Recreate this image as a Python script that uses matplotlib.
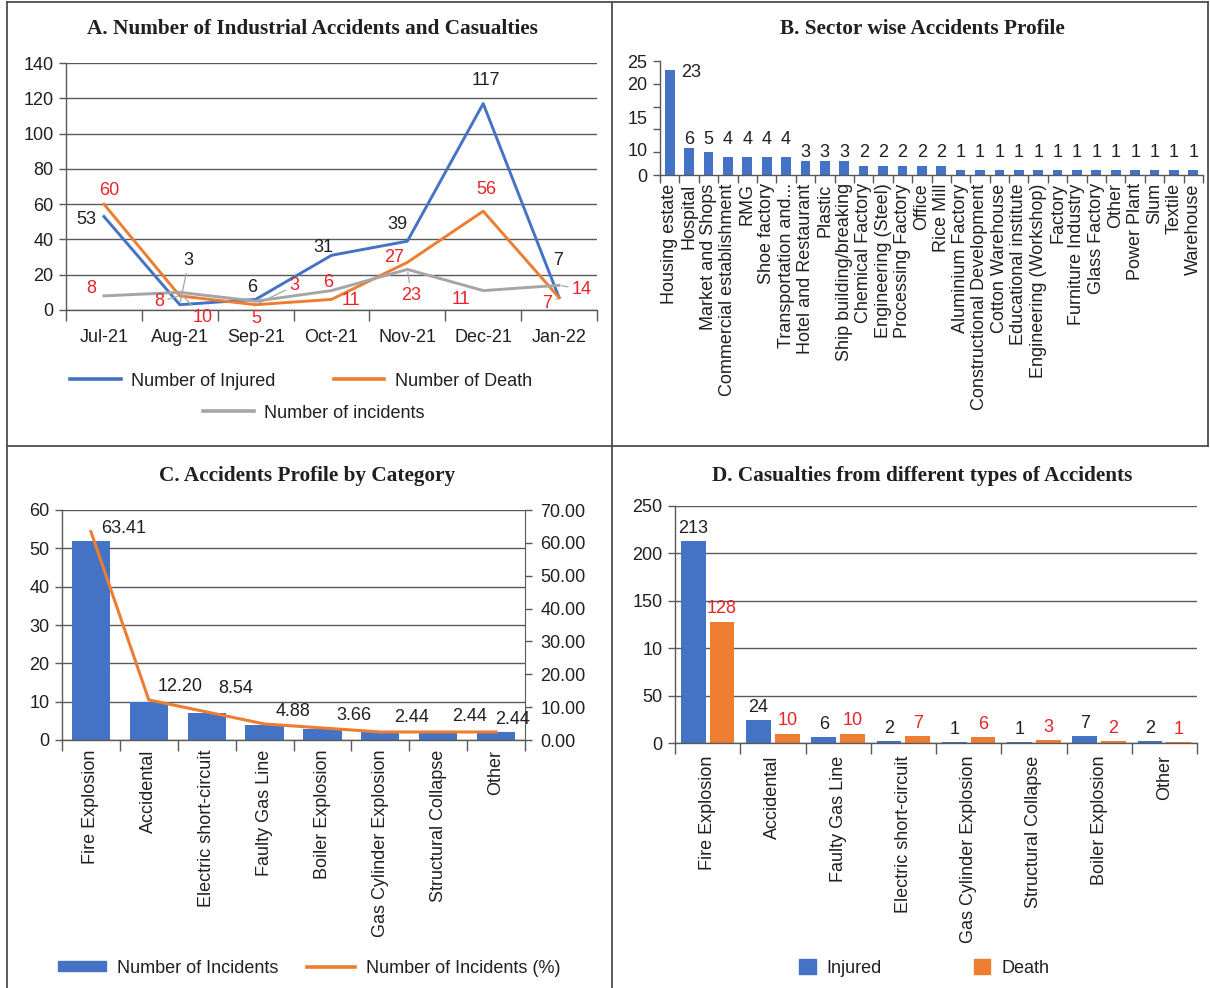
import numpy as np
import matplotlib
matplotlib.use("Agg")
import matplotlib.pyplot as plt
from matplotlib.lines import Line2D
from matplotlib.patches import Patch

plt.rcParams['font.family'] = ['Liberation Sans', 'DejaVu Sans']
plt.rcParams['font.size'] = 13

BLUE = '#4472C4'
ORANGE = '#ED7D31'
GRAY = '#A5A5A5'
RED = '#E8232A'
INK = '#231F20'
AXC = '#595959'

# A. monthly accidents and casualties
months = ['Jul-21', 'Aug-21', 'Sep-21', 'Oct-21', 'Nov-21', 'Dec-21', 'Jan-22']
injured = [53, 3, 6, 31, 39, 117, 7]
deaths = [60, 8, 3, 6, 27, 56, 7]
incidents = [8, 10, 5, 11, 23, 11, 14]

# B. accidents by sector
sectors = ['Housing estate', 'Hospital', 'Market and Shops', 'Commercial establishment',
           'RMG', 'Shoe factory', 'Transportation and...', 'Hotel and Restaurant',
           'Plastic', 'Ship building/breaking', 'Chemical Factory', 'Engineering (Steel)',
           'Processing Factory', 'Office', 'Rice Mill', 'Aluminium Factory',
           'Constructional Development', 'Cotton Warehouse', 'Educational institute',
           'Engineering (Workshop)', 'Factory', 'Furniture Industry', 'Glass Factory',
           'Other', 'Power Plant', 'Slum', 'Textile', 'Warehouse']
sector_counts = [23, 6, 5, 4, 4, 4, 4, 3, 3, 3, 2, 2, 2, 2, 2,
                 1, 1, 1, 1, 1, 1, 1, 1, 1, 1, 1, 1, 1]
sector_ticklabels = ['0', '10', '15', '20', '25']

# C. accidents by category
categories = ['Fire Explosion', 'Accidental', 'Electric short-circuit', 'Faulty Gas Line',
              'Boiler Explosion', 'Gas Cylinder Explosion', 'Structural Collapse', 'Other']
cat_counts = [52, 10, 7, 4, 3, 2, 2, 2]
cat_pct = [63.41, 12.20, 8.54, 4.88, 3.66, 2.44, 2.44, 2.44]

# D. casualties by accident type
types = ['Fire Explosion', 'Accidental', 'Faulty Gas Line', 'Electric short-circuit',
         'Gas Cylinder Explosion', 'Structural Collapse', 'Boiler Explosion', 'Other']
type_injured = [213, 24, 6, 2, 1, 1, 7, 2]
type_death = [128, 10, 10, 7, 6, 3, 2, 1]
type_yticklabels = ['0', '50', '10', '150', '200', '250']

W, H = 1210, 988
fig = plt.figure(figsize=(W / 100, H / 100), dpi=100)


def box(l, t, r, b):
    return [l / W, 1 - b / H, (r - l) / W, (b - t) / H]


def fxy(x, y):
    return (x / W, 1 - y / H)


def style_axes(ax, n, tick_len=6):
    for s in ['top', 'right']:
        ax.spines[s].set_visible(False)
    for s in ['left', 'bottom']:
        ax.spines[s].set_color(AXC)
        ax.spines[s].set_linewidth(1.0)
    ax.set_xlim(-0.5, n - 0.5)
    ax.set_xticks(np.arange(n))
    ax.set_xticks(np.arange(n + 1) - 0.5, minor=True)
    ax.tick_params(axis='x', which='major', length=0, colors=INK)
    ax.tick_params(axis='x', which='minor', length=tick_len, width=1.0, color=AXC,
                   direction='out')
    ax.tick_params(axis='y', which='major', length=5, width=1.0, color=AXC,
                   direction='out', labelcolor=INK, pad=4)


def grid(ax):
    ax.yaxis.grid(True, color=AXC, linewidth=1.0)
    ax.set_axisbelow(True)


# frame lines between panels
for (x0, y0), (x1, y1) in [((7, 2), (1208, 2)), ((7, 2), (7, 988)),
                           ((612, 2), (612, 988)), ((7, 446), (1208, 446)),
                           ((1208, 2), (1208, 446))]:
    a, b = fxy(x0, y0), fxy(x1, y1)
    fig.add_artist(Line2D([a[0], b[0]], [a[1], b[1]], color='#4d4d4d', lw=1.3))

title_kw = dict(family='Liberation Serif', fontweight='bold', fontsize=15.3,
                color=INK, ha='center', va='center')
fig.text(*fxy(312, 29), 'A. Number of Industrial Accidents and Casualties', **title_kw)
fig.text(*fxy(922, 29), 'B. Sector wise Accidents Profile', **title_kw)
fig.text(*fxy(307, 476), 'C. Accidents Profile by Category', **title_kw)
fig.text(*fxy(922, 476), 'D. Casualties from different types of Accidents', **title_kw)

# ---- A ----
axA = fig.add_axes(box(66, 63, 597, 310))
x = np.arange(len(months))
lA1, = axA.plot(x, injured, color=BLUE, lw=2.1)
lA2, = axA.plot(x, deaths, color=ORANGE, lw=2.1)
lA3, = axA.plot(x, incidents, color=GRAY, lw=2.1)
style_axes(axA, len(months), tick_len=8)
axA.set_ylim(0, 140)
axA.set_yticks(np.arange(0, 141, 20))
axA.set_xticklabels(months)
axA.tick_params(axis='x', which='major', pad=14)
grid(axA)

lead = dict(arrowstyle='-', color=GRAY, lw=0.9, shrinkA=1, shrinkB=2)
inj_off = [(-18, -3), (9, 44), (-3, 12), (-8, 8), (-10, 17), (3, 23), (-1, 37)]
dth_off = [(5, 14), (-21, -6), (39, 19), (-3, 17), (-13, 5), (3, 22), (-12, -6)]
inc_off = [(-13, 7), (23, -25), (1, -17), (19, -10), (4, -26), (-22, -9), (23, -4)]
inj_lead = [False, True, False, False, False, False, False]
dth_lead = [False, True, True, False, False, False, True]
inc_lead = [False, True, False, False, True, False, True]
for series, offs, leads, col in [(injured, inj_off, inj_lead, INK),
                                 (deaths, dth_off, dth_lead, RED),
                                 (incidents, inc_off, inc_lead, RED)]:
    for i, v in enumerate(series):
        axA.annotate(str(v), (i, v), xytext=offs[i], textcoords='offset pixels',
                     ha='center', va='center', color=col,
                     arrowprops=lead if leads[i] else None)

leg_kw = dict(frameon=False, borderpad=0, handletextpad=0.6,
              labelcolor=INK, loc='center', bbox_transform=fig.transFigure)
fig.legend([lA1, lA2], ['Number of Injured', 'Number of Death'], ncol=2,
           handlelength=2.8, columnspacing=3.2, bbox_to_anchor=fxy(301, 381),
           **leg_kw)
fig.legend([Line2D([], [], color=GRAY)], ['Number of incidents'],
           handlelength=2.8, bbox_to_anchor=fxy(314, 413), **leg_kw)
for leg in fig.legends:
    for h in leg.legend_handles:
        h.set_linewidth(2.6)

# ---- B ----
axB = fig.add_axes(box(660, 61, 1203, 175))
xb = np.arange(len(sectors))
axB.bar(xb, sector_counts, width=0.5, color=BLUE)
style_axes(axB, len(sectors), tick_len=6)
axB.set_ylim(0, 25)
# tick marks every 5, labels where they sit on the printed scale
axB.yaxis.remove_overlapping_locs = False
axB.set_yticks(np.arange(0, 26, 5), minor=True)
axB.set_yticks([0, 5.5, 12.7, 20, 25])
axB.set_yticklabels(sector_ticklabels)
axB.tick_params(axis='y', which='major', length=0, pad=9)
axB.tick_params(axis='y', which='minor', length=5, width=1.0, color=AXC,
                direction='out')
axB.set_xticklabels(sectors, rotation=90, ha='center', va='top')
axB.tick_params(axis='x', which='major', pad=6)
for i, v in enumerate(sector_counts):
    if v > 20:
        axB.annotate(str(v), (i, v), xytext=(21, -2), textcoords='offset pixels',
                     ha='center', va='center', color=INK)
    else:
        axB.text(i, 7.7 if v >= 4 else 5.0, str(v), ha='center', va='center',
                 color=INK)

# ---- C ----
axC = fig.add_axes(box(62, 510, 525, 740))
xc = np.arange(len(categories))
bC = axC.bar(xc, cat_counts, width=0.66, color=BLUE, zorder=2)
style_axes(axC, len(categories), tick_len=8)
axC.set_ylim(0, 60)
axC.set_yticks(np.arange(0, 61, 10))
axC.set_xticklabels(categories, rotation=90, ha='center', va='top')
axC.tick_params(axis='x', which='major', pad=7)
grid(axC)
axC2 = axC.twinx()
lC, = axC2.plot(xc, cat_pct, color=ORANGE, lw=2.2)
axC2.set_ylim(0, 70)
axC2.set_yticks(np.arange(0, 71, 10))
axC2.set_yticklabels([f'{t:.2f}' for t in np.arange(0, 71, 10)])
for s in ['top', 'left', 'bottom']:
    axC2.spines[s].set_visible(False)
axC2.spines['right'].set_color(AXC)
axC2.tick_params(axis='y', length=5, width=1.0, color=AXC, labelcolor=INK, pad=6)
pct_off = [(33, 3), (31, 13), (29, 23), (28, 12), (31, 12), (31, 14), (31, 15), (16, 12)]
for i, v in enumerate(cat_pct):
    axC2.annotate(f'{v:.2f}', (i, v), xytext=pct_off[i], textcoords='offset pixels',
                  ha='center', va='center', color=INK)
fig.legend([Patch(color=BLUE), Line2D([], [], color=ORANGE, lw=2.6)],
           ['Number of Incidents', 'Number of Incidents (%)'], ncol=2,
           handlelength=2.65, handleheight=0.45, columnspacing=1.6,
           bbox_to_anchor=fxy(309, 968), **leg_kw)

# ---- D ----
axD = fig.add_axes(box(675, 506, 1197, 743))
xd = np.arange(len(types))
bD1 = axD.bar(xd - 0.22, type_injured, width=0.38, color=BLUE, zorder=2)
bD2 = axD.bar(xd + 0.22, type_death, width=0.38, color=ORANGE, zorder=2)
style_axes(axD, len(types), tick_len=8)
axD.set_ylim(0, 250)
axD.set_yticks(np.arange(0, 251, 50))
axD.set_yticklabels(type_yticklabels)
axD.set_xticklabels(types, rotation=90, ha='center', va='top')
axD.tick_params(axis='x', which='major', pad=9)
grid(axD)
axD.bar_label(bD1, labels=[str(v) for v in type_injured], padding=3, color=INK)
axD.bar_label(bD2, labels=[str(v) for v in type_death], padding=3, color=RED)
fig.legend([Patch(color=BLUE), Patch(color=ORANGE)], ['Injured', 'Death'], ncol=2,
           handlelength=0.92, handleheight=0.92, columnspacing=5.1,
           bbox_to_anchor=fxy(924, 968), **leg_kw)

fig.savefig('out.png', dpi=100)
